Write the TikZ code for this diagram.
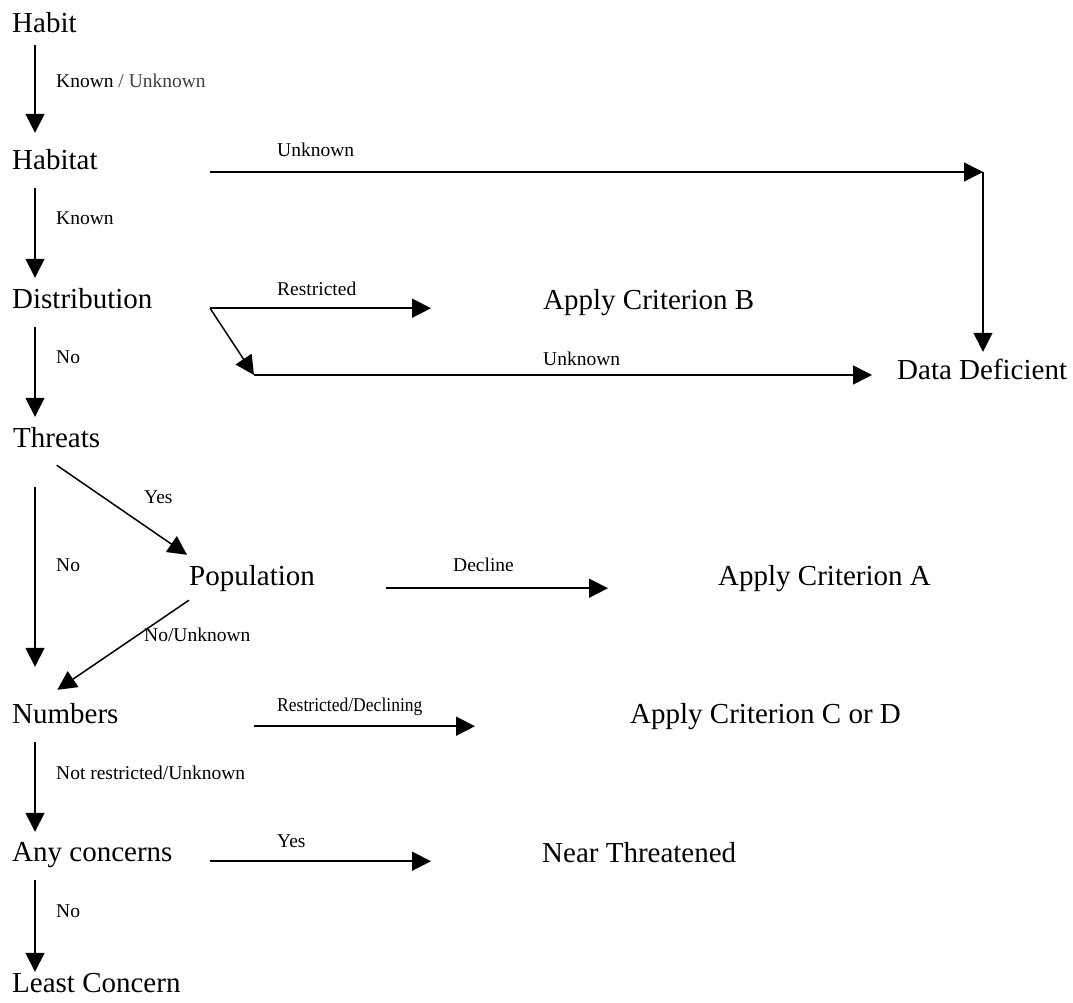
\documentclass[tikz,border=0pt]{standalone}
\usepackage{fontspec}
\setmainfont{Liberation Serif}
\usetikzlibrary{arrows.meta}

\begin{document}
\begin{tikzpicture}[x=1pt, y=1pt,
    every node/.style={anchor=base west, inner sep=0pt, text height=20pt, text depth=0pt},
    stage/.style={font=\fontsize{29}{34}\selectfont},
    answer/.style={font=\fontsize{19.5}{23}\selectfont, text height=13pt},
    flow/.style={-{Triangle[length=19pt,width=19pt]}, line width=1.5pt},
    ]
  \useasboundingbox (0,0) rectangle (1073,-1003);

  % left column
  \node[stage] (habit) at (12,-33) {Habit};
  \node[stage] (habitat) at (12,-170) {Habitat};
  \node[stage] (distrib) at (12,-308) {Distribution};
  \node[stage] (threats) at (13,-447) {Threats};
  \node[stage] (population) at (189,-585) {Population};
  \node[stage] (numbers) at (12,-723) {Numbers};
  \node[stage] (concerns) at (12,-861) {Any concerns};
  \node[stage] (least) at (12,-992) {Least Concern};

  % outcomes
  \node[stage] (critB) at (543,-309) {Apply Criterion B};
  \node[stage] (critA) at (718,-585) {Apply Criterion A};
  \node[stage] (critCD) at (630,-723) {Apply Criterion C or D};
  \node[stage] (near) at (542,-862) {Near Threatened};
  \node[stage] (dd) at (897,-379) {Data Deficient};

  \coordinate (spine) at (35,0);
  \coordinate (col) at (210,0);
  \coordinate (corner) at (983,-172);
  \coordinate (split) at (254,-375);

  % down the spine
  \draw[flow, shorten <=12pt, shorten >=17pt] (habit.south -| spine) -- (habitat.north -| spine);
  \draw[flow, shorten <=18pt, shorten >=10pt] (habitat.south -| spine) -- (distrib.north -| spine);
  \draw[flow, shorten <=19pt, shorten >=10pt] (distrib.south -| spine) -- (threats.north -| spine);
  \draw[flow, shorten <=40pt, shorten >=36pt] (threats.south -| spine) -- (numbers.north -| spine);
  \draw[flow, shorten <=19pt, shorten >=9pt] (numbers.south -| spine) -- (concerns.north -| spine);
  \draw[flow, shorten <=19pt] (concerns.south -| spine) -- (least.north -| spine);

  \node[answer] (a1) at (56,-88) {Known \textcolor{black!75}{/ Unknown}};
  \node[answer] (a2) at (56,-225) {Known};
  \node[answer] (a3) at (56,-363) {No};
  \node[answer] (a4) at (56,-571) {No};
  \node[answer] (a5) at (56,-779) {Not restricted/Unknown};
  \node[answer] (a6) at (56,-917) {No};

  % population branch
  \draw[flow] ([yshift=-18pt]threats.south) -- ([shift={(-2pt,10pt)}]population.north west);
  \draw[flow] ([yshift=-15pt]population.south west) -- ([shift={(-8pt,13pt)}]numbers.north);
  \node[answer] (a7) at (144,-503) {Yes};
  \node[answer] (a8) at (144,-641) {No/Unknown};

  % sideways
  \draw[flow] (corner -| col) -- (corner);
  \draw[flow, shorten >=7pt] (corner) -- (dd.north -| corner);
  \draw[flow, shorten >=112pt] (distrib.south -| col) -- (critB.west |- distrib.south);
  \draw[flow] (distrib.south -| col) -- (split);
  \draw[flow, shorten >=25pt] (split) -- (dd.west |- split);
  \draw[flow, shorten <=71pt, shorten >=110pt] ([yshift=-3pt]population.south east) -- ([yshift=-3pt]critA.west |- population.south);
  \draw[flow, shorten >=155pt] ([yshift=-3pt]numbers.south -| split) -- ([yshift=-3pt]critCD.west |- numbers.south);
  \draw[flow, shorten >=111pt] (concerns.south -| col) -- (near.west |- concerns.south);

  \node[answer] (b1) at (277,-157) {Unknown};
  \node[answer] (b2) at (277,-295) {Restricted};
  \node[answer] (b3) at (543,-365) {Unknown};
  \node[answer] (b4) at (453,-571) {Decline};
  \node[answer] (b5) at (277,-711) {\scalebox{0.9}[1]{Restricted/Declining}};
  \node[answer] (b6) at (277,-847) {Yes};
\end{tikzpicture}
\end{document}
